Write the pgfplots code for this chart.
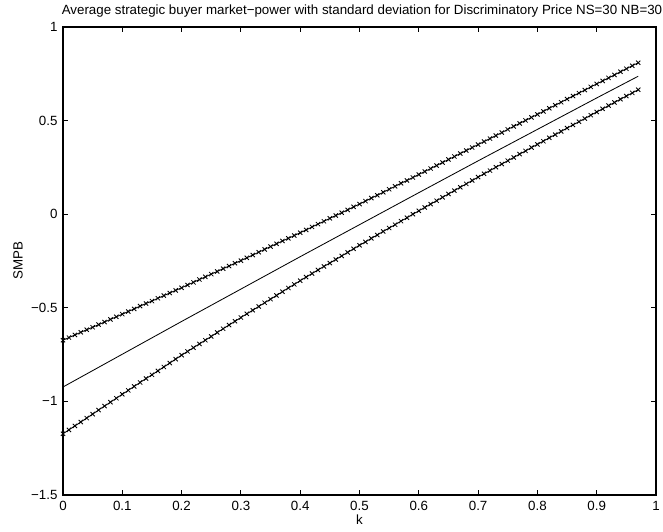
\documentclass[border=0pt]{standalone}
\usepackage{fontspec}
\setmainfont{Liberation Sans}
\usepackage{pgfplots}
\usepackage{pgfplotstable}
\pgfplotsset{compat=1.18}

% mean +/- std, read at every 0.01 step of k
\pgfplotstableread{
k     upper   lower
0.00 -0.673 -1.173
0.01 -0.659 -1.152
0.02 -0.645 -1.131
0.03 -0.631 -1.110
0.04 -0.617 -1.089
0.05 -0.604 -1.068
0.06 -0.590 -1.046
0.07 -0.576 -1.025
0.08 -0.562 -1.004
0.09 -0.548 -0.983
0.10 -0.534 -0.962
0.11 -0.520 -0.941
0.12 -0.506 -0.920
0.13 -0.491 -0.899
0.14 -0.477 -0.878
0.15 -0.464 -0.858
0.16 -0.449 -0.837
0.17 -0.435 -0.816
0.18 -0.421 -0.795
0.19 -0.407 -0.774
0.20 -0.393 -0.753
0.21 -0.378 -0.733
0.22 -0.364 -0.713
0.23 -0.349 -0.693
0.24 -0.335 -0.673
0.25 -0.320 -0.653
0.26 -0.306 -0.632
0.27 -0.291 -0.612
0.28 -0.277 -0.592
0.29 -0.262 -0.572
0.30 -0.248 -0.552
0.31 -0.233 -0.532
0.32 -0.218 -0.513
0.33 -0.203 -0.493
0.34 -0.188 -0.473
0.35 -0.173 -0.454
0.36 -0.158 -0.434
0.37 -0.143 -0.414
0.38 -0.129 -0.394
0.39 -0.114 -0.375
0.40 -0.099 -0.355
0.41 -0.084 -0.336
0.42 -0.068 -0.317
0.43 -0.053 -0.298
0.44 -0.038 -0.279
0.45 -0.022 -0.261
0.46 -0.007 -0.242
0.47  0.008 -0.223
0.48  0.023 -0.204
0.49  0.039 -0.185
0.50  0.054 -0.166
0.51  0.070 -0.148
0.52  0.086 -0.129
0.53  0.101 -0.111
0.54  0.117 -0.092
0.55  0.133 -0.074
0.56  0.149 -0.056
0.57  0.165 -0.037
0.58  0.180 -0.019
0.59  0.196  0.000
0.60  0.212  0.018
0.61  0.228  0.036
0.62  0.244  0.054
0.63  0.260  0.072
0.64  0.276  0.090
0.65  0.292  0.108
0.66  0.308  0.126
0.67  0.324  0.144
0.68  0.340  0.162
0.69  0.356  0.180
0.70  0.372  0.198
0.71  0.388  0.216
0.72  0.404  0.233
0.73  0.420  0.251
0.74  0.436  0.268
0.75  0.453  0.286
0.76  0.469  0.303
0.77  0.485  0.321
0.78  0.501  0.338
0.79  0.517  0.356
0.80  0.533  0.373
0.81  0.549  0.390
0.82  0.566  0.408
0.83  0.582  0.425
0.84  0.598  0.442
0.85  0.615  0.460
0.86  0.631  0.477
0.87  0.647  0.494
0.88  0.663  0.511
0.89  0.680  0.529
0.90  0.696  0.546
0.91  0.712  0.563
0.92  0.728  0.580
0.93  0.744  0.597
0.94  0.761  0.614
0.95  0.777  0.631
0.96  0.793  0.648
0.97  0.809  0.665
}\stdtable

\begin{document}
\begin{tikzpicture}
\begin{axis}[
  scale only axis,
  width=355.8pt, height=280.8pt,
  xmin=0, xmax=1, ymin=-1.5, ymax=1,
  xtick={0,0.1,0.2,0.3,0.4,0.5,0.6,0.7,0.8,0.9,1},
  xticklabels={0,0.1,0.2,0.3,0.4,0.5,0.6,0.7,0.8,0.9,1},
  ytick={-1.5,-1,-0.5,0,0.5,1},
  yticklabels={−1.5,−1,−0.5,0,0.5,1},
  tick align=inside,
  major tick length=3pt,
  tick style={black, line width=0.5pt},
  axis line style={black, line width=0.9pt},
  tick label style={font=\fontsize{8}{10}\selectfont},
  yticklabel style={xshift=0.2pt},
  title={Average strategic buyer market−power with standard deviation for Discriminatory Price NS=30 NB=30},
  title style={font=\fontsize{8}{10}\selectfont, at={(axis description cs:0.5,1)}, anchor=base, xshift=1.5pt, yshift=1.4pt, inner sep=0pt},
  xlabel={k},
  xlabel style={font=\fontsize{8}{10}\selectfont, at={(axis description cs:0.5,0)}, anchor=base, yshift=-17.6pt, inner sep=0pt},
  ylabel={SMPB},
  ylabel style={font=\fontsize{8}{10}\selectfont, at={(axis description cs:-0.076,0.5)}, anchor=center, rotate=0},
]
  \addplot[black, line width=0.5pt, mark=x, mark size=1.8pt] table[x=k, y=upper] {\stdtable};
  \addplot[black, line width=0.5pt] coordinates {
    (0.00,-0.923) (0.10,-0.748) (0.20,-0.573) (0.30,-0.400) (0.40,-0.227)
    (0.50,-0.056) (0.60,0.115) (0.70,0.285) (0.80,0.453) (0.90,0.621) (0.97,0.737)
  };
  \addplot[black, line width=0.5pt, mark=x, mark size=1.8pt] table[x=k, y=lower] {\stdtable};
\end{axis}
\pgfresetboundingbox
\path ([shift={(-37.8pt,-21.6pt)}]current axis.south west) rectangle ([shift={(4.2pt,16.2pt)}]current axis.north east);
\end{tikzpicture}
\end{document}
